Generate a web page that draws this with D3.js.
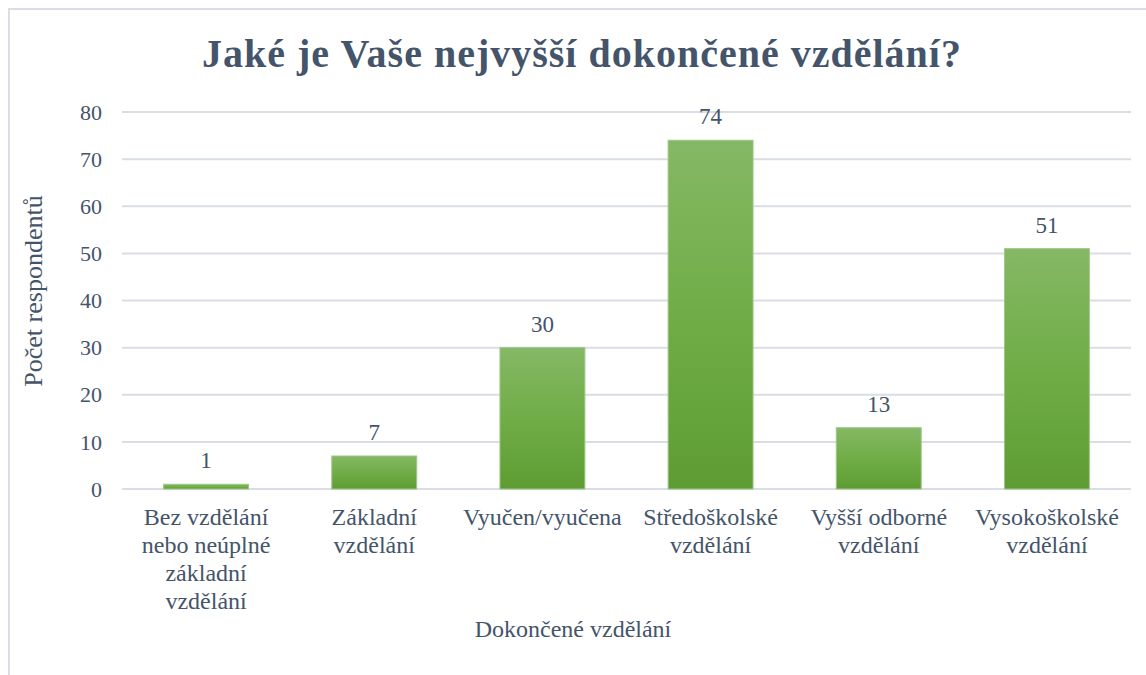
<!DOCTYPE html>
<html>
<head>
<meta charset="utf-8">
<script src="https://cdn.jsdelivr.net/npm/d3@7"></script>
<style>
  html, body { margin: 0; padding: 0; background: #fff; }
  svg text { font-family: "Liberation Serif", "Times New Roman", serif; fill: #44546A; }
</style>
</head>
<body>
<svg id="chart" width="1146" height="675"></svg>
<script>
const categories = [
  ["Bez vzdělání", "nebo neúplné", "základní", "vzdělání"],
  ["Základní", "vzdělání"],
  ["Vyučen/vyučena"],
  ["Středoškolské", "vzdělání"],
  ["Vyšší odborné", "vzdělání"],
  ["Vysokoškolské", "vzdělání"]
];
const values = [1, 7, 30, 74, 13, 51];
const yTicks = [0, 10, 20, 30, 40, 50, 60, 70, 80];

const svg = d3.select("#chart");
const margin = { left: 122, right: 15, top: 112, bottom: 186 };
const W = 1146, H = 675;

// outer chart border
svg.append("rect")
  .attr("x", 9).attr("y", 9)
  .attr("width", W + 10).attr("height", H + 10)
  .attr("fill", "none").attr("stroke", "#D9DEE5").attr("stroke-width", 2);

const defs = svg.append("defs");
const grad = defs.append("linearGradient")
  .attr("id", "barGrad").attr("x1", 0).attr("y1", 0).attr("x2", 0).attr("y2", 1);
grad.append("stop").attr("offset", "0%").attr("stop-color", "#85B865");
grad.append("stop").attr("offset", "50%").attr("stop-color", "#70AD47");
grad.append("stop").attr("offset", "100%").attr("stop-color", "#5E9C33");

const x = d3.scaleBand()
  .domain(d3.range(categories.length))
  .range([margin.left, W - margin.right])
  .paddingInner(0.495).paddingOuter(0.2475);

const y = d3.scaleLinear().domain([0, 80]).range([H - margin.bottom, margin.top]);

// gridlines
svg.append("g")
  .selectAll("line")
  .data(yTicks)
  .join("line")
  .attr("x1", margin.left).attr("x2", W - margin.right)
  .attr("y1", d => y(d)).attr("y2", d => y(d))
  .attr("stroke", "#D9DEE5").attr("stroke-width", 2);

// y axis labels
svg.append("g")
  .selectAll("text")
  .data(yTicks)
  .join("text")
  .attr("x", 102).attr("y", d => y(d))
  .attr("dy", "0.35em")
  .attr("text-anchor", "end")
  .attr("font-size", 22)
  .text(d => d);

// bars
svg.append("g")
  .selectAll("rect")
  .data(values)
  .join("rect")
  .attr("x", (d, i) => x(i))
  .attr("y", d => y(d))
  .attr("width", x.bandwidth())
  .attr("height", d => y(0) - y(d))
  .attr("fill", "url(#barGrad)")
  .attr("stroke", "#9CC784").attr("stroke-width", 1);

// data labels
svg.append("g")
  .selectAll("text")
  .data(values)
  .join("text")
  .attr("x", (d, i) => x(i) + x.bandwidth() / 2)
  .attr("y", d => y(d) - 16)
  .attr("text-anchor", "middle")
  .attr("font-size", 23)
  .text(d => d);

// category labels
const catG = svg.append("g")
  .selectAll("text")
  .data(categories)
  .join("text")
  .attr("x", (d, i) => x(i) + x.bandwidth() / 2)
  .attr("y", 525)
  .attr("text-anchor", "middle")
  .attr("font-size", 24);
catG.selectAll("tspan")
  .data(d => d)
  .join("tspan")
  .attr("x", function () { return d3.select(this.parentNode).attr("x"); })
  .attr("dy", (d, i) => i === 0 ? 0 : 28)
  .text(d => d);

// title
svg.append("text")
  .attr("x", 582).attr("y", 67)
  .attr("text-anchor", "middle")
  .attr("font-size", 40)
  .attr("font-weight", "bold")
  .attr("letter-spacing", 1)
  .text("Jaké je Vaše nejvyšší dokončené vzdělání?");

// axis titles
svg.append("text")
  .attr("transform", "translate(42,291) rotate(-90)")
  .attr("text-anchor", "middle")
  .attr("font-size", 26)
  .text("Počet respondentů");

svg.append("text")
  .attr("x", 573).attr("y", 637)
  .attr("text-anchor", "middle")
  .attr("font-size", 24)
  .text("Dokončené vzdělání");
</script>
</body>
</html>
